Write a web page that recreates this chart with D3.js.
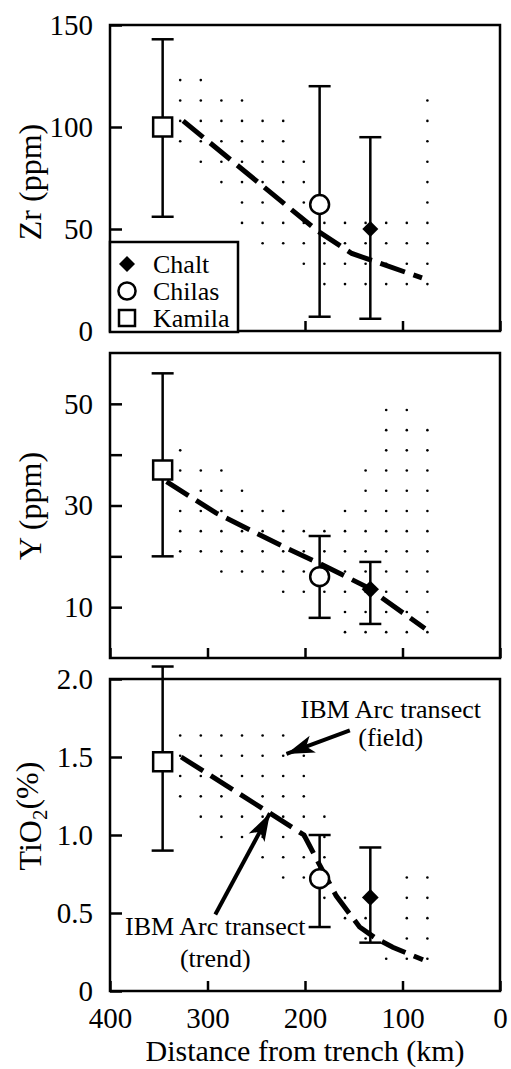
<!DOCTYPE html>
<html>
<head>
<meta charset="utf-8">
<script src="https://cdn.jsdelivr.net/npm/d3@7"></script>
<style>
  body { margin: 0; background: #fff; }
</style>
</head>
<body>
<div id="chart"></div>
<script>
// ---- data ----
var samples = ["Chalt", "Chilas", "Kamila"];
var symbols = ["diamond", "circle", "square"];
var distKm = [133, 185, 346];

var zrMean = [50, 62, 100];
var zrLow = [6, 7, 56];
var zrHigh = [95, 120, 143];

var yMean = [13.5, 16, 37];
var yLow = [6.7, 7.9, 20];
var yHigh = [18.9, 24, 56];

var tiMean = [0.60, 0.72, 1.47];
var tiLow = [0.31, 0.41, 0.90];
var tiHigh = [0.92, 1.00, 2.08];

// IBM arc transect trend lines [km, value]
var zrTrend = [[325, 103], [187, 49], [152, 38], [80, 26]];
var yTrend = [[342, 34.7], [291, 28.5], [222, 21.9], [185, 18.6], [137, 14.0], [77, 5.8]];
var tiTrend = [[327, 1.50], [236, 1.14], [201, 1.00], [186, 0.82], [168, 0.61], [144, 0.41], [128, 0.34], [110, 0.28], [79, 0.20]];

// IBM arc transect field outlines [km, value]
var zrField = [[334, 127], [300, 127], [298, 118], [260, 118], [255, 108], [218, 108], [215, 88], [197, 88], [197, 58],
  [82, 58], [82, 118], [70, 118], [70, 18], [190, 18], [208, 28], [230, 38], [270, 48], [278, 66], [300, 78], [322, 88], [334, 90]];
var yField = [[334, 42.5], [322, 42.5], [310, 39.5], [276, 36], [262, 32.5], [200, 28], [165, 28], [160, 30], [142, 30],
  [142, 39], [122, 39], [122, 51], [88, 51], [88, 47], [70, 47], [70, 3], [165, 3], [165, 11], [232, 11], [232, 15],
  [295, 15], [295, 19], [334, 19]];
var tiField = [[330, 1.68], [215, 1.68], [215, 1.57], [195, 1.57], [195, 1.16], [172, 1.16], [172, 0.78], [150, 0.62],
  [125, 0.38], [118, 0.25], [105, 0.25], [105, 0.78], [66, 0.78], [66, 0.14], [120, 0.14], [135, 0.26], [165, 0.40],
  [192, 0.58], [222, 0.66], [250, 0.80], [268, 0.93], [312, 1.07], [330, 1.17]];

var zrTicks = [0, 50, 100, 150];
var zrTickLabels = ["0", "50", "100", "150"];
var yTicks = [10, 20, 30, 40, 50];
var yTickLabels = ["10", "", "30", "", "50"];
var tiTicks = [0, 0.5, 1, 1.5, 2];
var tiTickLabels = ["0", "0.5", "1.0", "1.5", "2.0"];
var xTicks = [400, 300, 200, 100, 0];
var xTickLabels = ["400", "300", "200", "100", "0"];

// annotations (bottom panel)
var fieldText = ["IBM Arc transect", "(field)"];
var fieldTextPos = [[112, 1.75], [112, 1.57]];
var fieldArrow = [[154, 1.67], [219, 1.52]];
var trendText = ["IBM Arc transect", "(trend)"];
var trendTextPos = [[292, 0.36], [292, 0.155]];
var trendArrow = [[292, 0.49], [236, 1.14]];

// ---- layout ----
var W = 511, H = 1069;
var serif = "'Liberation Serif', 'Times New Roman', serif";

var svg = d3.select("#chart").append("svg")
    .attr("width", W)
    .attr("height", H);

var x = d3.scaleLinear().domain([400, 0]).range([110, 500]);

var panels = [
  {mean: zrMean, lo: zrLow, hi: zrHigh, trend: zrTrend, field: zrField, domain: [0, 150], range: [331, 25],
   ticks: zrTicks, tickLabels: zrTickLabels, rowAnchor: 123, rowStep: 20.4, titleY: 182, size: 128},
  {mean: yMean, lo: yLow, hi: yHigh, trend: yTrend, field: yField, domain: [0, 60], range: [658, 353],
   ticks: yTicks, tickLabels: yTickLabels, rowAnchor: 48.8, rowStep: 20.2, titleY: 506, size: 150},
  {mean: tiMean, lo: tiLow, hi: tiHigh, trend: tiTrend, field: tiField, domain: [0, 2], range: [991, 679],
   ticks: tiTicks, tickLabels: tiTickLabels, rowAnchor: 1.638, rowStep: 20.3, titleY: 816, size: 140}
];

var defs = svg.append("defs");
defs.append("marker")
    .attr("id", "head")
    .attr("viewBox", "-30 -10 32 20")
    .attr("refX", 0)
    .attr("refY", 0)
    .attr("markerWidth", 32)
    .attr("markerHeight", 20)
    .attr("markerUnits", "userSpaceOnUse")
    .attr("orient", "auto")
  .append("path")
    .attr("d", "M0,0 L-28,-9 L-21,0 L-28,9 Z")
    .attr("fill", "#000");

function symbolPath(type, big) {
  if (type == "square") return d3.symbol(d3.symbolSquare, big ? 361 : 256)();
  if (type == "circle") return d3.symbol(d3.symbolCircle, big ? 280 : 230)();
  return d3.symbol(d3.symbolSquare, big)();
}

panels.forEach(function(p, pi) {
  var y = d3.scaleLinear().domain(p.domain).range(p.range);
  var top = p.range[1], bottom = p.range[0];
  var g = svg.append("g").attr("class", "panel");

  // dotted field (screen of dots clipped to the outline)
  var outline = p.field.map(function(d) { return [x(d[0]), y(d[1])]; });
  var dots = [];
  var py0 = y(p.rowAnchor), px0 = x(328), colStep = 20.6;
  var pyStart = py0 - Math.floor((py0 - top) / p.rowStep) * p.rowStep;
  var pxStart = px0 - Math.floor((px0 - 110) / colStep) * colStep;
  for (var py = pyStart; py < bottom; py += p.rowStep) {
    for (var px = pxStart; px < 500; px += colStep) {
      if (d3.polygonContains(outline, [px, py])) dots.push([px, py]);
    }
  }
  g.append("g").selectAll("circle")
      .data(dots)
    .enter().append("circle")
      .attr("cx", function(d) { return d[0]; })
      .attr("cy", function(d) { return d[1]; })
      .attr("r", 1.3)
      .attr("fill", "#000");

  // trend
  var line = d3.line()
      .x(function(d) { return x(d[0]); })
      .y(function(d) { return y(d[1]); });
  g.append("path")
      .datum(p.trend)
      .attr("d", line)
      .attr("fill", "none")
      .attr("stroke", "#000")
      .attr("stroke-width", 5)
      .attr("stroke-dasharray", "26,9");

  // error bars
  var bars = g.append("g").selectAll("g")
      .data(samples)
    .enter().append("g")
      .attr("stroke", "#000")
      .attr("stroke-width", 2.5);
  bars.append("line")
      .attr("x1", function(d, i) { return x(distKm[i]); })
      .attr("x2", function(d, i) { return x(distKm[i]); })
      .attr("y1", function(d, i) { return y(p.lo[i]); })
      .attr("y2", function(d, i) { return y(p.hi[i]); });
  bars.append("line")
      .attr("x1", function(d, i) { return x(distKm[i]) - 11; })
      .attr("x2", function(d, i) { return x(distKm[i]) + 11; })
      .attr("y1", function(d, i) { return y(p.lo[i]); })
      .attr("y2", function(d, i) { return y(p.lo[i]); });
  bars.append("line")
      .attr("x1", function(d, i) { return x(distKm[i]) - 11; })
      .attr("x2", function(d, i) { return x(distKm[i]) + 11; })
      .attr("y1", function(d, i) { return y(p.hi[i]); })
      .attr("y2", function(d, i) { return y(p.hi[i]); });

  // markers
  g.append("g").selectAll("path")
      .data(samples)
    .enter().append("path")
      .attr("d", function(d, i) { return symbols[i] == "diamond" ? symbolPath("diamond", p.size) : symbolPath(symbols[i], true); })
      .attr("transform", function(d, i) {
        return "translate(" + x(distKm[i]) + "," + y(p.mean[i]) + ")" + (symbols[i] == "diamond" ? " rotate(45)" : "");
      })
      .attr("fill", function(d, i) { return symbols[i] == "diamond" ? "#000" : "#fff"; })
      .attr("stroke", "#000")
      .attr("stroke-width", function(d, i) { return symbols[i] == "diamond" ? 0 : 2.5; });

  // frame
  g.append("rect")
      .attr("x", x(400))
      .attr("y", top)
      .attr("width", x(0) - x(400))
      .attr("height", bottom - top)
      .attr("fill", "none")
      .attr("stroke", "#000")
      .attr("stroke-width", 2.5);

  // y axis (inward ticks)
  var ya = g.append("g")
      .attr("transform", "translate(" + x(400) + ",0)")
      .call(d3.axisLeft(y)
        .tickValues(p.ticks)
        .tickFormat(function(d, i) { return p.tickLabels[i]; })
        .tickSizeInner(-12)
        .tickSizeOuter(0)
        .tickPadding(17));
  ya.select(".domain").remove();
  ya.selectAll("line").attr("stroke-width", 2.5);
  ya.attr("font-family", serif).attr("font-size", 29);
  ya.selectAll("text").attr("fill", "#000");

  // x axis (inward ticks, labels on the last panel only)
  var last = pi == panels.length - 1;
  var xa = g.append("g")
      .attr("transform", "translate(0," + bottom + ")")
      .call(d3.axisBottom(x)
        .tickValues(xTicks)
        .tickFormat(function(d, i) { return last ? xTickLabels[i] : ""; })
        .tickSizeInner(-10)
        .tickSizeOuter(0)
        .tickPadding(16));
  xa.select(".domain").remove();
  xa.selectAll("line").attr("stroke-width", 2.5);
  xa.attr("font-family", serif).attr("font-size", 29);
  xa.selectAll("text").attr("fill", "#000");

  p.y = y;
});

// axis titles
function yTitle(cy) {
  return svg.append("text")
      .attr("transform", "translate(41," + cy + ") rotate(-90)")
      .attr("text-anchor", "middle")
      .attr("font-family", serif)
      .attr("font-size", 32);
}
yTitle(panels[0].titleY).text("Zr (ppm)");
yTitle(panels[1].titleY).text("Y (ppm)");
var tt = yTitle(panels[2].titleY);
tt.append("tspan").text("TiO");
tt.append("tspan").attr("font-size", 21).attr("dy", "0.3em").text("2");
tt.append("tspan").attr("dy", "-0.3em").text("(%)");

svg.append("text")
    .attr("x", (x(400) + x(0)) / 2)
    .attr("y", 1061)
    .attr("text-anchor", "middle")
    .attr("font-family", serif)
    .attr("font-size", 30)
    .text("Distance from trench (km)");

// legend
var leg = svg.append("g");
leg.append("rect")
    .attr("x", 110)
    .attr("y", 242)
    .attr("width", 128)
    .attr("height", 90)
    .attr("fill", "#fff")
    .attr("stroke", "#000")
    .attr("stroke-width", 2.5);
var items = leg.selectAll("g.item")
    .data(samples)
  .enter().append("g")
    .attr("class", "item")
    .attr("transform", function(d, i) { return "translate(127," + (264 + i * 27) + ")"; });
items.append("path")
    .attr("d", function(d, i) { return symbols[i] == "diamond" ? symbolPath("diamond", 128) : symbolPath(symbols[i], false); })
    .attr("transform", function(d, i) { return symbols[i] == "diamond" ? "rotate(45)" : null; })
    .attr("fill", function(d, i) { return symbols[i] == "diamond" ? "#000" : "#fff"; })
    .attr("stroke", "#000")
    .attr("stroke-width", function(d, i) { return symbols[i] == "diamond" ? 0 : 2.5; });
items.append("text")
    .attr("x", 26)
    .attr("y", 9)
    .attr("font-family", serif)
    .attr("font-size", 26)
    .text(function(d) { return d; });

// annotations in the TiO2 panel
var yT = panels[2].y;
function annotate(lines, pos, arrow) {
  svg.append("g").selectAll("text")
      .data(lines)
    .enter().append("text")
      .attr("x", function(d, i) { return x(pos[i][0]); })
      .attr("y", function(d, i) { return yT(pos[i][1]); })
      .attr("text-anchor", "middle")
      .attr("font-family", serif)
      .attr("font-size", 26)
      .text(function(d) { return d; });
  svg.append("line")
      .attr("x1", x(arrow[0][0]))
      .attr("y1", yT(arrow[0][1]))
      .attr("x2", x(arrow[1][0]))
      .attr("y2", yT(arrow[1][1]))
      .attr("stroke", "#000")
      .attr("stroke-width", 4)
      .attr("marker-end", "url(#head)");
}
annotate(fieldText, fieldTextPos, fieldArrow);
annotate(trendText, trendTextPos, trendArrow);
</script>
</body>
</html>
